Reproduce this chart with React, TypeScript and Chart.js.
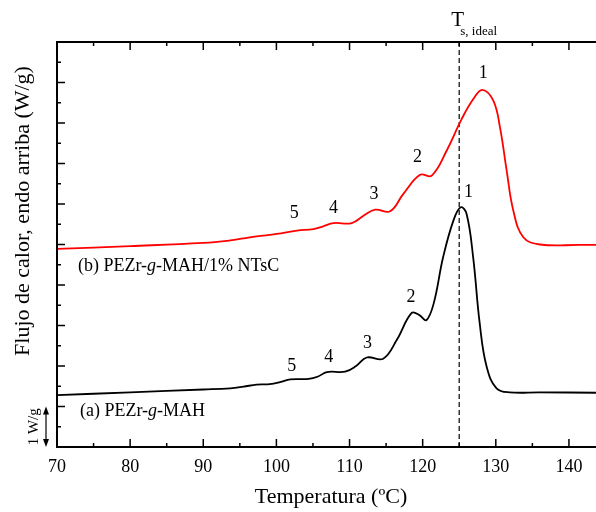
import { useEffect, useRef } from "react";
import { Chart, registerables } from "chart.js";
Chart.register(...registerables);

// Curve (a) PEZr-g-MAH
const tempA = [70, 80, 90, 93.7, 95.5, 97.3, 99.1, 100.5, 101.9, 104.4, 105.7, 106.9, 109.4, 110.9, 112.35, 114.6, 116.45, 118.5, 119.6, 120.5, 121.5, 122.8, 124.2, 125.2, 126.0, 126.9, 127.8, 128.75, 130.1, 131.9, 136, 143.7];
const heatA = [1.28, 1.35, 1.42, 1.45, 1.49, 1.54, 1.55, 1.6, 1.67, 1.68, 1.74, 1.85, 1.86, 2.0, 2.21, 2.18, 2.64, 3.31, 3.25, 3.13, 3.54, 4.69, 5.59, 5.92, 5.76, 4.69, 3.05, 1.98, 1.45, 1.35, 1.35, 1.34];
// Curve (b) PEZr-g-MAH/1% NTsC
const tempB = [70, 80, 90, 93.7, 95.5, 97.3, 100.05, 102.8, 105.06, 106.4, 107.8, 110.3, 112.0, 113.5, 115.55, 117.36, 119.64, 121.24, 123.29, 125.34, 126.92, 128.15, 129.66, 130.57, 131.49, 132.39, 133.76, 136.04, 141.5, 143.7];
const heatB = [4.89, 4.96, 5.04, 5.10, 5.15, 5.20, 5.26, 5.345, 5.38, 5.45, 5.53, 5.53, 5.72, 5.86, 5.82, 6.25, 6.72, 6.70, 7.32, 8.10, 8.59, 8.82, 8.55, 7.89, 6.82, 5.84, 5.18, 5.00, 4.99, 4.99];

const xMajorTicks = [70, 80, 90, 100, 110, 120, 130, 140];
const xMinorTicks = [75, 85, 95, 105, 115, 125, 135];
const yMajorTicks = [0, 1, 2, 3, 4, 5, 6, 7, 8, 9, 10];
const yMinorTicks = [0.5, 1.5, 2.5, 3.5, 4.5, 5.5, 6.5, 7.5, 8.5, 9.5];

const peakLabels = ["1", "2", "3", "4", "5"];
const peakTA = [126.25, 118.4, 112.45, 107.15, 102.1];
const peakYA = [6.3, 3.69, 2.55, 2.22, 1.99];
const peakTB = [128.3, 119.3, 113.35, 107.8, 102.45];
const peakYB = [9.23, 7.15, 6.25, 5.9, 5.76];

const idealT = 125;
const xTitle = "Temperatura (ºC)";
const yTitle = "Flujo de calor, endo arriba (W/g)";
const scaleBarLabel = "1 W/g";

const SERIF = "'Liberation Serif', 'DejaVu Serif', serif";

function drawMixed(ctx: CanvasRenderingContext2D, parts: [string, boolean][], x: number, y: number, size: number) {
  let cx = x;
  for (const [t, it] of parts) {
    ctx.font = `${it ? "italic " : ""}${size}px ${SERIF}`;
    ctx.fillText(t, cx, y);
    cx += ctx.measureText(t).width;
  }
}

const decorPlugin = {
  id: "decor",
  beforeDatasetsDraw(chart: any) {
    const { ctx, chartArea: ca, scales } = chart;
    const xs = scales.x;
    const px = xs.getPixelForValue(idealT);
    ctx.save();
    ctx.strokeStyle = "#333";
    ctx.lineWidth = 1.5;
    ctx.setLineDash([5, 3]);
    ctx.beginPath();
    ctx.moveTo(px, ca.top);
    ctx.lineTo(px, ca.bottom);
    ctx.stroke();
    ctx.restore();
  },
  afterDraw(chart: any) {
    const { ctx, chartArea: ca, scales } = chart;
    const xs = scales.x;
    const ys = scales.y;
    ctx.save();
    ctx.strokeStyle = "#000";
    ctx.fillStyle = "#000";
    ctx.lineWidth = 2;
    ctx.setLineDash([]);
    ctx.beginPath();
    ctx.moveTo(ca.left, ca.top);
    ctx.lineTo(ca.right + 2, ca.top);
    ctx.moveTo(ca.left, ca.top - 1);
    ctx.lineTo(ca.left, ca.bottom);
    ctx.moveTo(ca.left - 1, ca.bottom);
    ctx.lineTo(ca.right + 2, ca.bottom);
    ctx.stroke();
    ctx.lineWidth = 1.5;
    ctx.beginPath();
    const xt = (v: number, len: number) => {
      const p = xs.getPixelForValue(v);
      ctx.moveTo(p, ca.bottom);
      ctx.lineTo(p, ca.bottom - len);
      ctx.moveTo(p, ca.top);
      ctx.lineTo(p, ca.top + len);
    };
    xMajorTicks.forEach((v) => xt(v, 8));
    xMinorTicks.forEach((v) => xt(v, 4));
    const yt = (v: number, len: number) => {
      const p = ys.getPixelForValue(v);
      ctx.moveTo(ca.left, p);
      ctx.lineTo(ca.left + len, p);
    };
    yMajorTicks.forEach((v) => yt(v, 8));
    yMinorTicks.forEach((v) => yt(v, 4));
    ctx.stroke();

    ctx.font = `18px ${SERIF}`;
    ctx.textAlign = "center";
    ctx.textBaseline = "middle";
    xMajorTicks.forEach((v) => {
      ctx.fillText(String(v), xs.getPixelForValue(v), ca.bottom + 20);
    });

    ctx.font = `22px ${SERIF}`;
    ctx.fillText(xTitle, 331, 497);

    ctx.save();
    ctx.translate(23, 211);
    ctx.rotate(-Math.PI / 2);
    ctx.font = `22px ${SERIF}`;
    ctx.fillText(yTitle, 0, 0);
    ctx.restore();

    const y0 = ys.getPixelForValue(0);
    const y1 = ys.getPixelForValue(1);
    const ax = 46;
    ctx.lineWidth = 1.2;
    ctx.beginPath();
    ctx.moveTo(ax, y1 + 4);
    ctx.lineTo(ax, y0 - 4);
    ctx.stroke();
    ctx.beginPath();
    ctx.moveTo(ax, y1);
    ctx.lineTo(ax - 3, y1 + 8);
    ctx.lineTo(ax + 3, y1 + 8);
    ctx.closePath();
    ctx.moveTo(ax, y0);
    ctx.lineTo(ax - 3, y0 - 8);
    ctx.lineTo(ax + 3, y0 - 8);
    ctx.closePath();
    ctx.fill();
    ctx.save();
    ctx.translate(34, (y0 + y1) / 2);
    ctx.rotate(-Math.PI / 2);
    ctx.font = `15px ${SERIF}`;
    ctx.fillText(scaleBarLabel, 0, 0);
    ctx.restore();

    const pT = xs.getPixelForValue(idealT);
    ctx.textAlign = "left";
    ctx.font = `21px ${SERIF}`;
    ctx.fillText("T", pT - 8, 20);
    ctx.font = `13px ${SERIF}`;
    ctx.fillText("s, ideal", pT + 1, 32);

    ctx.textAlign = "left";
    drawMixed(ctx, [["(b) PEZr-", false], ["g", true], ["-MAH/1% NTsC", false]], 78, 266, 18);
    drawMixed(ctx, [["(a) PEZr-", false], ["g", true], ["-MAH", false]], 80, 411, 18);

    ctx.textAlign = "center";
    ctx.font = `18px ${SERIF}`;
    peakLabels.forEach((lab, i) => {
      ctx.fillText(lab, xs.getPixelForValue(peakTA[i]), ys.getPixelForValue(peakYA[i]));
      ctx.fillText(lab, xs.getPixelForValue(peakTB[i]), ys.getPixelForValue(peakYB[i]));
    });
    ctx.restore();
  },
};

export default function App() {
  const ref = useRef<HTMLCanvasElement | null>(null);
  useEffect(() => {
    if (!ref.current) return;
    const chart = new Chart(ref.current, {
      type: "line",
      data: {
        datasets: [
          {
            label: "(b) PEZr-g-MAH/1% NTsC",
            data: tempB.map((t, i) => ({ x: t, y: heatB[i] })),
            borderColor: "#ff0000",
            borderWidth: 1.8,
            pointRadius: 0,
            tension: 0.4,
            fill: false,
          },
          {
            label: "(a) PEZr-g-MAH",
            data: tempA.map((t, i) => ({ x: t, y: heatA[i] })),
            borderColor: "#000000",
            borderWidth: 1.8,
            pointRadius: 0,
            tension: 0.4,
            fill: false,
          },
        ],
      },
      options: {
        animation: false,
        responsive: false,
        maintainAspectRatio: false,
        layout: { padding: { left: 57, top: 42, right: 0, bottom: 65 } },
        plugins: { legend: { display: false }, tooltip: { enabled: false } },
        scales: {
          x: { type: "linear", min: 70, max: 143.7, display: false },
          y: { type: "linear", min: 0, max: 10, display: false },
        },
      },
      plugins: [decorPlugin],
    } as any);
    return () => chart.destroy();
  }, []);
  return (
    <div style={{ position: "absolute", left: 0, top: 0, width: 596, height: 512, background: "#fff" }}>
      <canvas ref={ref} width={596} height={512} style={{ width: 596, height: 512 }} />
    </div>
  );
}
